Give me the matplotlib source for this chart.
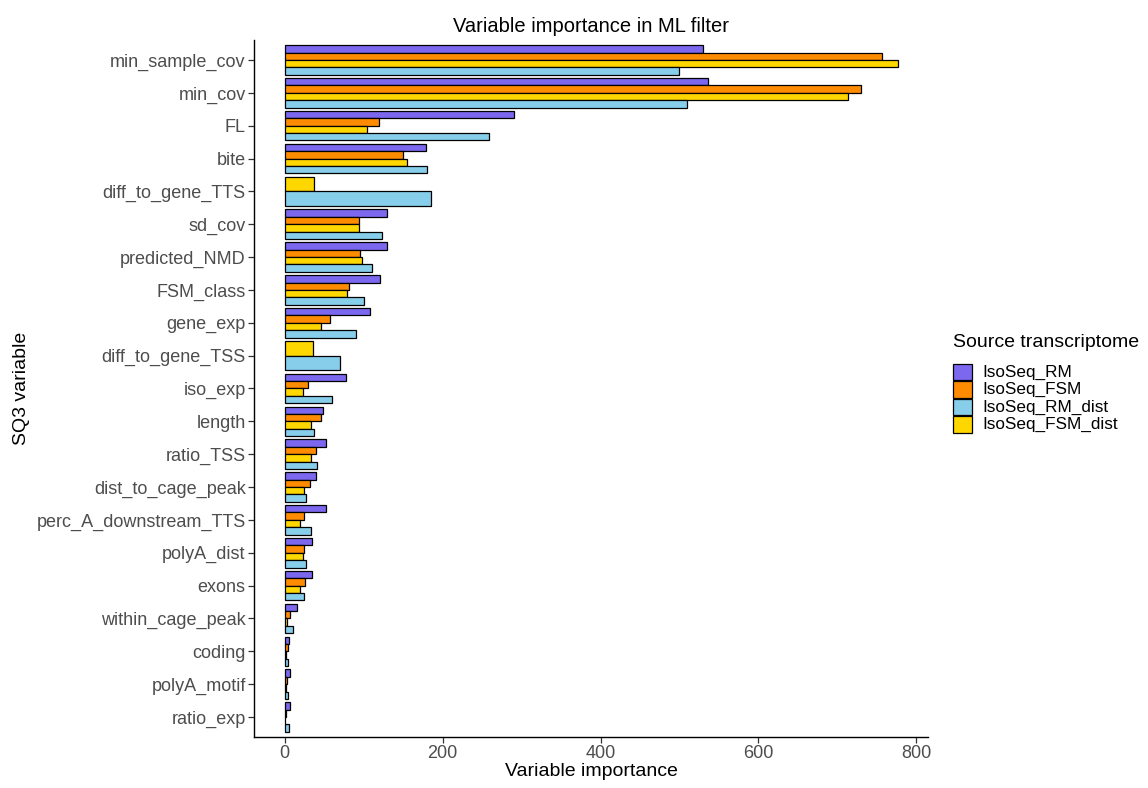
import matplotlib.pyplot as plt
import numpy as np
from matplotlib.patches import Rectangle

plt.rcParams['font.family'] = ['Liberation Sans', 'DejaVu Sans']

# data
variables = ['min_sample_cov', 'min_cov', 'FL', 'bite', 'diff_to_gene_TTS', 'sd_cov',
             'predicted_NMD', 'FSM_class', 'gene_exp', 'diff_to_gene_TSS', 'iso_exp',
             'length', 'ratio_TSS', 'dist_to_cage_peak', 'perc_A_downstream_TTS',
             'polyA_dist', 'exons', 'within_cage_peak', 'coding', 'polyA_motif', 'ratio_exp']

rm = [530, 536, 290, 179, np.nan, 130, 130, 121, 108, np.nan, 78,
      49, 52, 40, 52, 35, 34, 15.6, 5, 7, 7]
fsm = [757, 730, 119.5, 150, np.nan, 94.5, 95, 81.5, 57, np.nan, 30,
       46, 40, 32.5, 25, 24.5, 25.7, 6.3, 4, 2.5, 1.3]
fsm_dist = [777, 713, 104, 155, 36.5, 94, 98, 79, 45.5, 36, 23,
            33, 33, 24.5, 20, 23, 20, 3.4, 1.7, 1.7, 0.8]
rm_dist = [499, 510, 259, 180, 185, 123, 110.5, 101, 90, 69.6, 59.5,
           37.5, 41, 27.4, 33, 27, 24.5, 10.5, 4, 4.6, 6]

# drawing order inside each group (top to bottom)
series = [('IsoSeq_RM', rm, '#7B68EE'),
          ('IsoSeq_FSM', fsm, '#FF8C00'),
          ('IsoSeq_FSM_dist', fsm_dist, '#FFD700'),
          ('IsoSeq_RM_dist', rm_dist, '#87CEEB')]
legend_order = ['IsoSeq_RM', 'IsoSeq_FSM', 'IsoSeq_RM_dist', 'IsoSeq_FSM_dist']
colors = {name: c for name, _, c in series}

W, H = 1148, 788
fig = plt.figure(figsize=(W / 100, H / 100), dpi=100)
ax = fig.add_axes([0.2213, 0.0651, 0.8084 - 0.2213, 0.9489 - 0.0651])

# dodge bars within each category
for i in range(len(variables)):
    present = [(name, vals[i], c) for name, vals, c in series if not np.isnan(vals[i])]
    w = 0.9 / len(present)
    for k, (name, v, c) in enumerate(present):
        ax.barh(i - 0.45 + w * (k + 0.5), v, height=w, color=c,
                edgecolor='black', linewidth=0.9)

ax.set_yticks(range(len(variables)))
ax.set_yticklabels(variables)
ax.set_ylim(len(variables) - 0.4, -0.6)
ax.set_xlim(-38.8, 814.8)
ax.set_xticks([0, 200, 400, 600, 800])

for side in ['top', 'right']:
    ax.spines[side].set_visible(False)
for side in ['left', 'bottom']:
    ax.spines[side].set_linewidth(1.0)
ax.tick_params(axis='both', labelsize=13, labelcolor='#4D4D4D', length=4,
               width=0.9, color='#333333', pad=2)

ax.set_xlabel('Variable importance', fontsize=14, labelpad=1)
ax.set_ylabel('SQ3 variable', fontsize=14, labelpad=5)
ax.set_title('Variable importance in ML filter', fontsize=14.5, pad=6)

# legend drawn by hand (pixel layout, origin top-left)
def px(x, y):
    return x / W, 1 - y / H

fig.text(*px(953, 343), 'Source transcriptome', fontsize=14, va='center', ha='left')
key_w, key_h, step = 19, 16.5, 17.5
for k, name in enumerate(legend_order):
    yc = 372 + k * step
    x0, y0 = px(953, yc + key_h / 2)
    fig.patches.append(Rectangle((x0, y0), key_w / W, key_h / H, transform=fig.transFigure,
                                 facecolor=colors[name], edgecolor='black', linewidth=0.9))
    fig.text(*px(982, yc), name, fontsize=12.3, va='center', ha='left')

fig.savefig('out.png', dpi=100)
